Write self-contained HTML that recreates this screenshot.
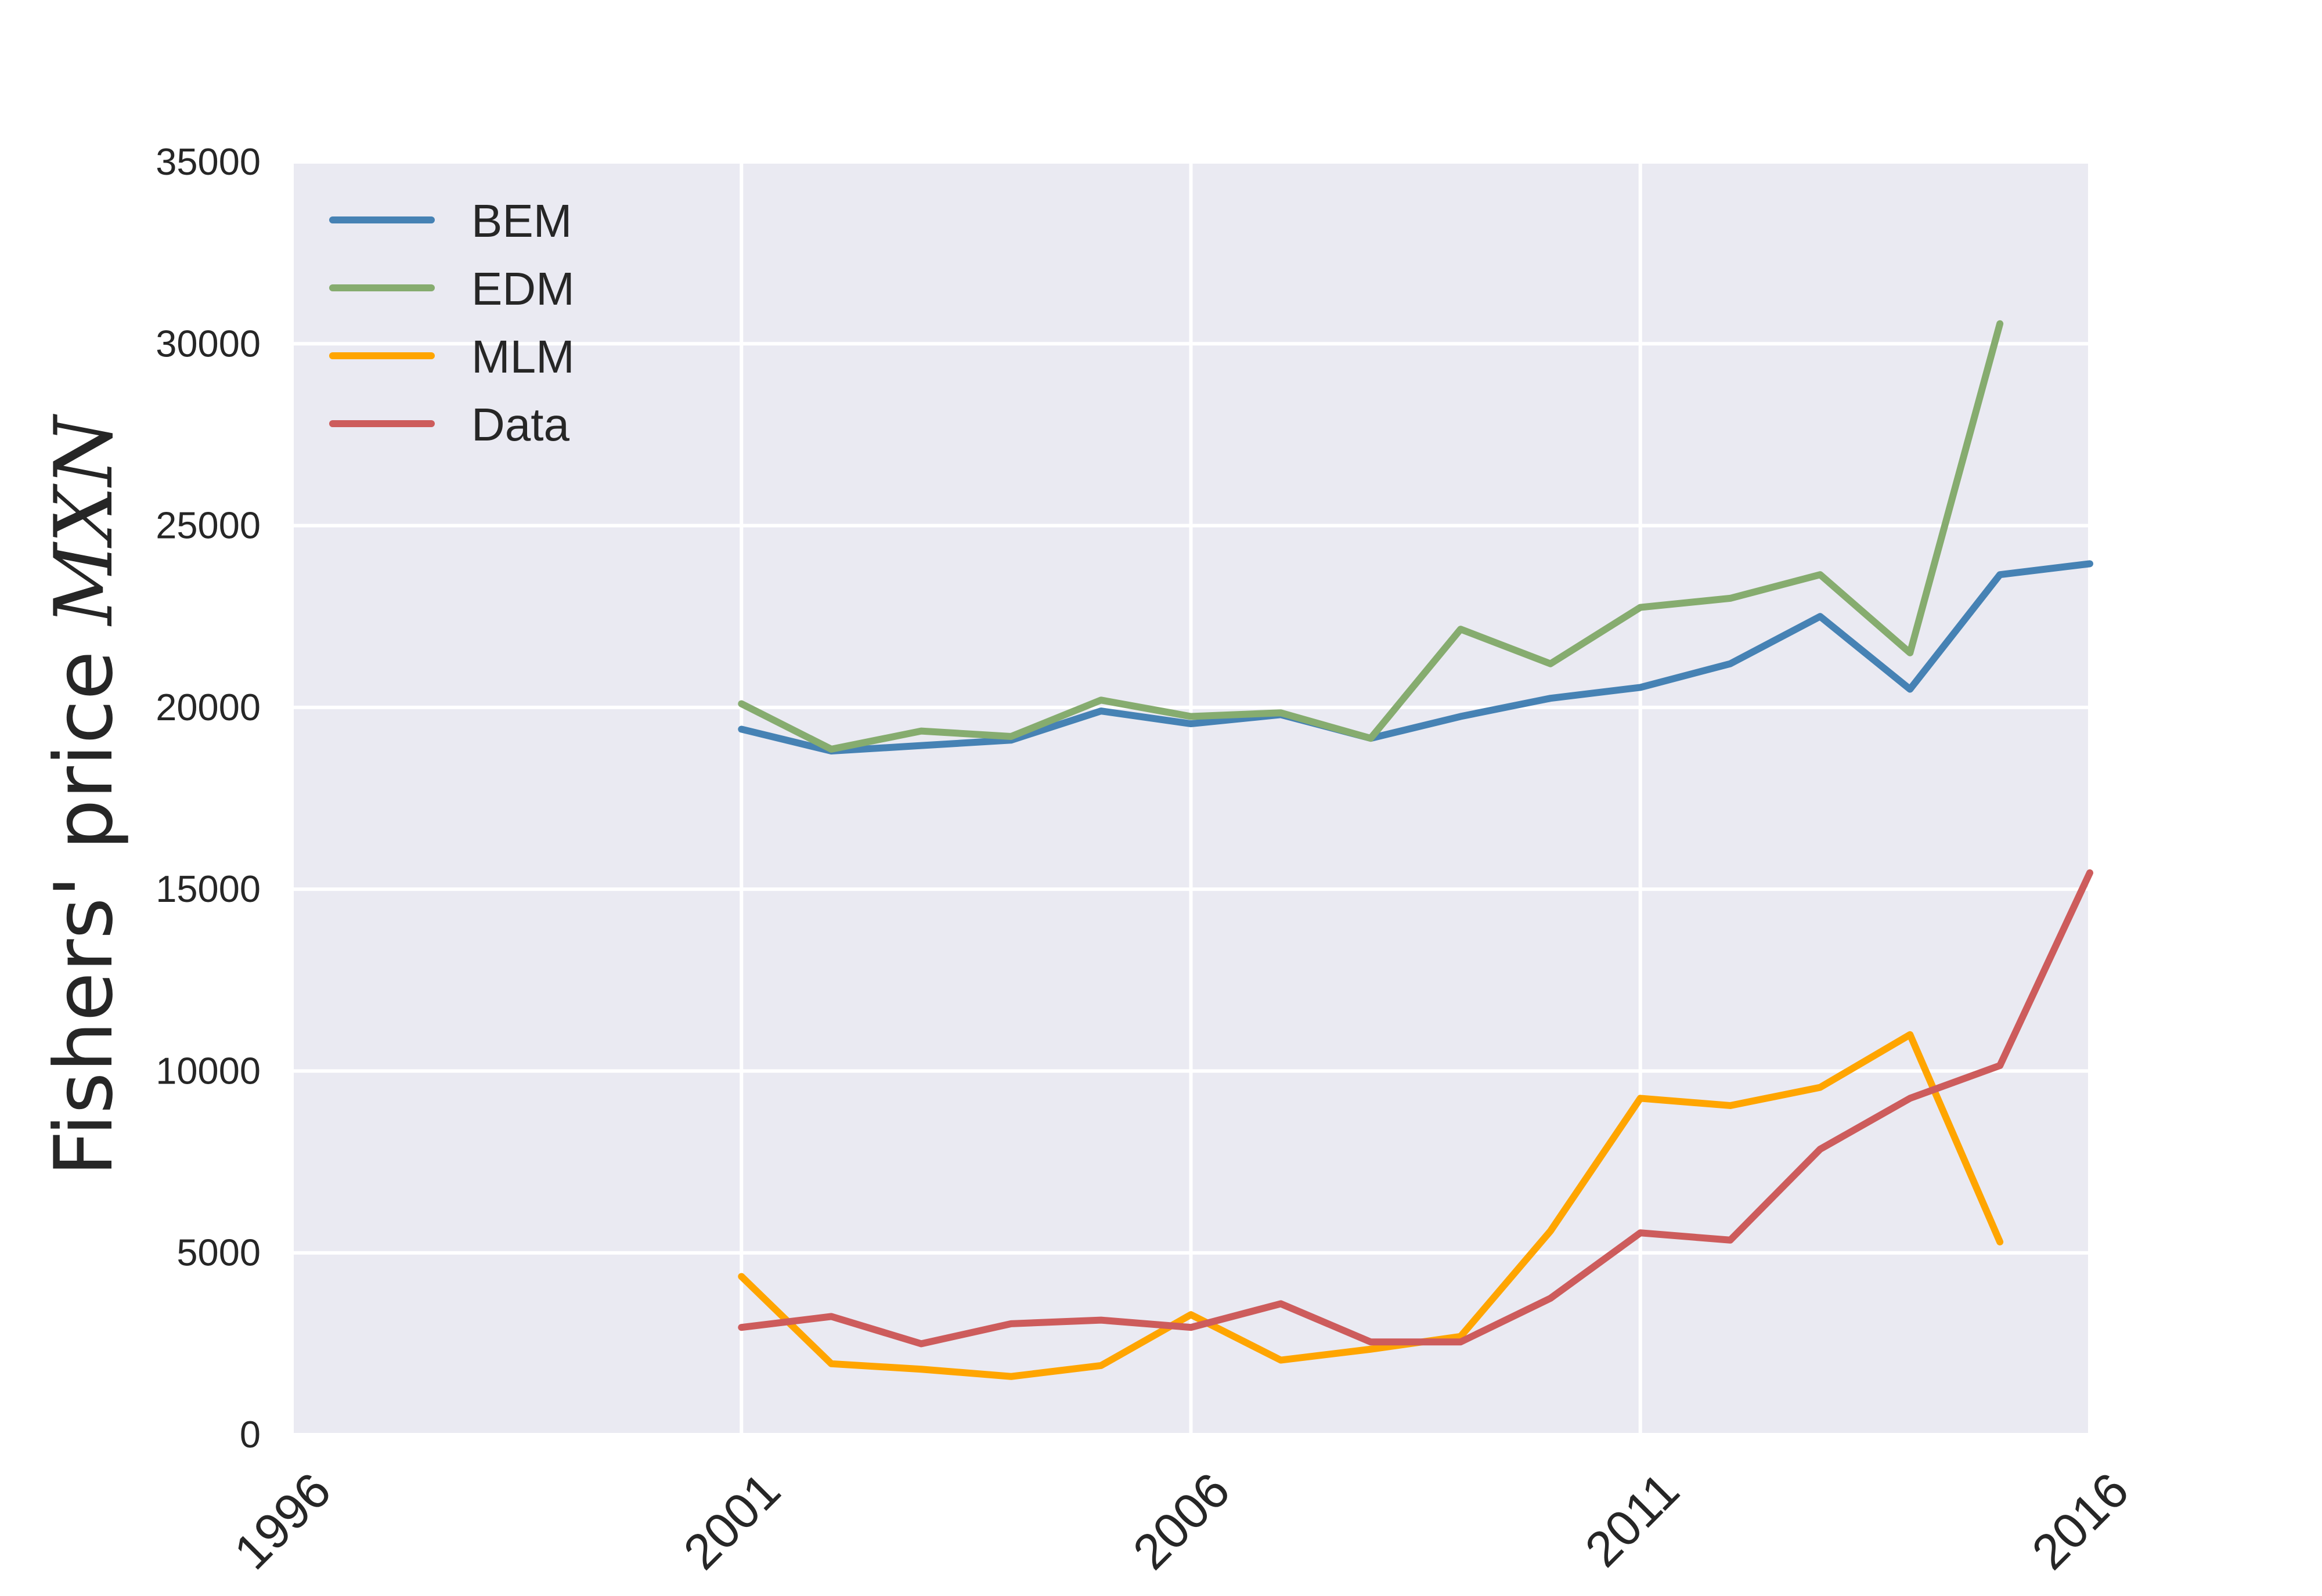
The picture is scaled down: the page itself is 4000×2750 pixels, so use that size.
<!DOCTYPE html>
<html><head><meta charset="utf-8"><style>
html,body{margin:0;padding:0;background:#fff;}
svg{display:block;}
</style></head><body>
<svg id="chart" width="4000" height="2750" xmlns="http://www.w3.org/2000/svg">
<rect x="0" y="0" width="4000" height="2750" fill="#fff"/>
<rect x="503" y="279" width="3097" height="2193" fill="#eaeaf2"/>
<g id="grid"></g>
<g id="yticks" font-family="Liberation Sans, sans-serif" font-size="65" fill="#262626"></g>
<g id="xticks" font-family="Liberation Sans, sans-serif" font-size="86" fill="#262626"></g>
<g id="series"></g>
<text transform="translate(192,1372) rotate(-90)" text-anchor="middle" font-family="DejaVu Sans, sans-serif" font-size="138" fill="#262626">Fishers' price <tspan font-family="DejaVu Serif, serif" font-style="italic">MXN</tspan></text>
<g id="legend" font-family="Liberation Sans, sans-serif" font-size="80" fill="#262626"></g>
</svg>
<script>
const years = [2001,2002,2003,2004,2005,2006,2007,2008,2009,2010,2011,2012,2013,2014,2015,2016];
const bem = [19400,18800,18950,19100,19900,19550,19800,19150,19750,20250,20550,21200,22500,20500,23650,23950];
const edm = [20100,18850,19350,19200,20200,19750,19850,19150,22150,21200,22750,23000,23650,21500,30550];
const mlm = [4350,1950,1800,1600,1900,3300,2050,2350,2700,5600,9250,9050,9550,11000,5300];
const dataObs = [2950,3250,2500,3050,3150,2950,3600,2550,2550,3750,5550,5350,7850,9250,10150,15450];
const yTicks = [0,5000,10000,15000,20000,25000,30000,35000];
const xTicks = [1996,2001,2006,2011,2016];
const seriesNames = ["BEM","EDM","MLM","Data"];
const seriesColors = ["#4682b4","#86ac6f","#ffa500","#cd5c5c"];

const NS="http://www.w3.org/2000/svg";
const X0=503,X1=3600,Y0=2472,Y1=279;
const xs=v=>X0+(v-1996)/(2016-1996)*(X1-X0);
const ys=v=>Y0-(v/35000)*(Y0-Y1);
function mk(tag,attrs,parent){const e=document.createElementNS(NS,tag);for(const k in attrs)e.setAttribute(k,attrs[k]);parent.appendChild(e);return e;}
const grid=document.getElementById('grid');
yTicks.forEach(t=>{
  const l=mk('line',{x1:X0,x2:X1,y1:ys(t),y2:ys(t),stroke:'#fff','stroke-width':6},grid);
  
  
  const tx=mk('text',{x:449,y:ys(t)+22,'text-anchor':'end'},document.getElementById('yticks'));
  tx.textContent=t;
  
  
});
xTicks.forEach(t=>{
  const l=mk('line',{x1:xs(t),x2:xs(t),y1:Y1,y2:Y0,stroke:'#fff','stroke-width':6},grid);
  
  
  const tx=mk('text',{transform:`translate(${xs(t)+72},${Y0+102}) rotate(-45)`,'text-anchor':'end'},document.getElementById('xticks'));
  tx.textContent=t;
  
  
});
const all=[bem,edm,mlm,dataObs];
const sg=document.getElementById('series');
all.forEach((vals,i)=>{
  const pts=vals.map((v,j)=>xs(years[j])+','+ys(v)).join(' ');
  const p=mk('polyline',{points:pts,fill:'none',stroke:seriesColors[i],'stroke-width':12,'stroke-linejoin':'round','stroke-linecap':'round'},sg);
  
  
});
const lg=document.getElementById('legend');
seriesNames.forEach((n,i)=>{
  const y=379+i*117;
  const l=mk('line',{x1:573,x2:743,y1:y,y2:y,stroke:seriesColors[i],'stroke-width':12,'stroke-linecap':'round'},lg);
  
  
  const t=mk('text',{x:812,y:y+29},lg);
  t.textContent=n;
  
  
});
</script>
</body></html>
